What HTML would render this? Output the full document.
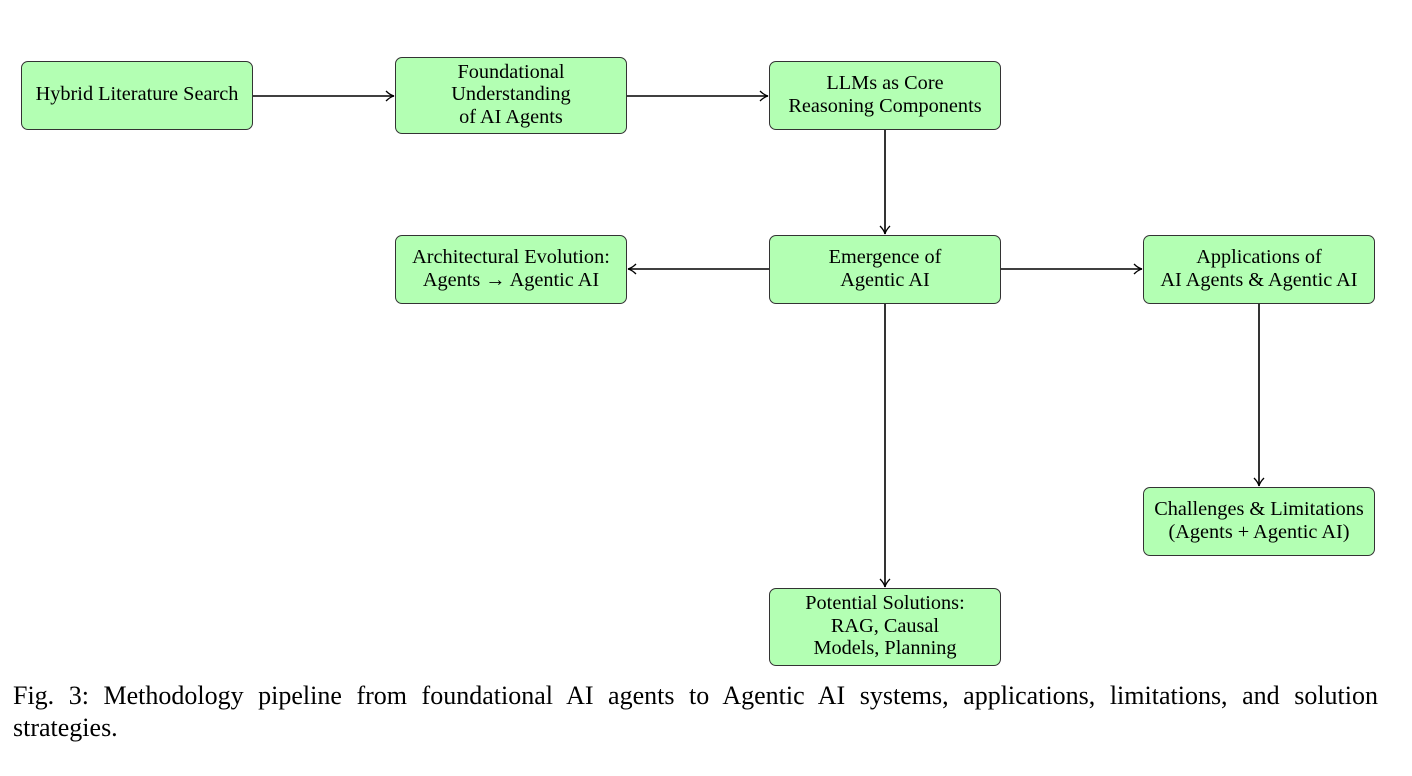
<!DOCTYPE html>
<html><head><style>
body{margin:0;width:1412px;height:776px;background:#fff;position:relative;font-family:"Liberation Serif",serif;overflow:hidden}
.b{position:absolute;background:#b3ffb3;border:1.3px solid #333;border-radius:7px;box-sizing:border-box;display:flex;align-items:center;justify-content:center;text-align:center;font-size:20.3px;line-height:22.5px;color:#000;padding-bottom:2px}
.cap{position:absolute;left:13px;top:680px;width:1365px;font-size:26px;line-height:32px}
.l1{text-align:justify;text-align-last:justify;white-space:nowrap}
</style></head><body>
<svg width="1412" height="776" style="position:absolute;left:0;top:0">
<defs><marker id="a" markerWidth="10" markerHeight="12" refX="9" refY="6" orient="auto" markerUnits="userSpaceOnUse"><path d="M1,1 Q5,5 9,6 Q5,7 1,11" fill="none" stroke="#000" stroke-width="1.3"/></marker></defs>
<g stroke="#000" stroke-width="1.6" fill="none" marker-end="url(#a)">
<line x1="253" y1="96" x2="394" y2="96"/>
<line x1="627" y1="96" x2="768" y2="96"/>
<line x1="885" y1="130" x2="885" y2="234"/>
<line x1="769" y1="269" x2="628" y2="269"/>
<line x1="1001" y1="269" x2="1142" y2="269"/>
<line x1="1259" y1="304" x2="1259" y2="486"/>
<line x1="885" y1="304" x2="885" y2="587"/>
</g></svg>
<div class="b" style="left:21px;top:61px;width:232px;height:69px">Hybrid Literature Search</div>
<div class="b" style="left:395px;top:57px;width:232px;height:77px">Foundational<br>Understanding<br>of AI Agents</div>
<div class="b" style="left:769px;top:61px;width:232px;height:69px">LLMs as Core<br>Reasoning Components</div>
<div class="b" style="left:395px;top:235px;width:232px;height:69px">Architectural Evolution:<br>Agents → Agentic AI</div>
<div class="b" style="left:769px;top:235px;width:232px;height:69px">Emergence of<br>Agentic AI</div>
<div class="b" style="left:1143px;top:235px;width:232px;height:69px">Applications of<br>AI Agents &amp; Agentic AI</div>
<div class="b" style="left:1143px;top:487px;width:232px;height:69px">Challenges &amp; Limitations<br>(Agents + Agentic AI)</div>
<div class="b" style="left:769px;top:588px;width:232px;height:78px">Potential Solutions:<br>RAG, Causal<br>Models, Planning</div>
<div class="cap"><div class="l1">Fig. 3: Methodology pipeline from foundational AI agents to Agentic AI systems, applications, limitations, and solution</div><div>strategies.</div></div>
</body></html>
